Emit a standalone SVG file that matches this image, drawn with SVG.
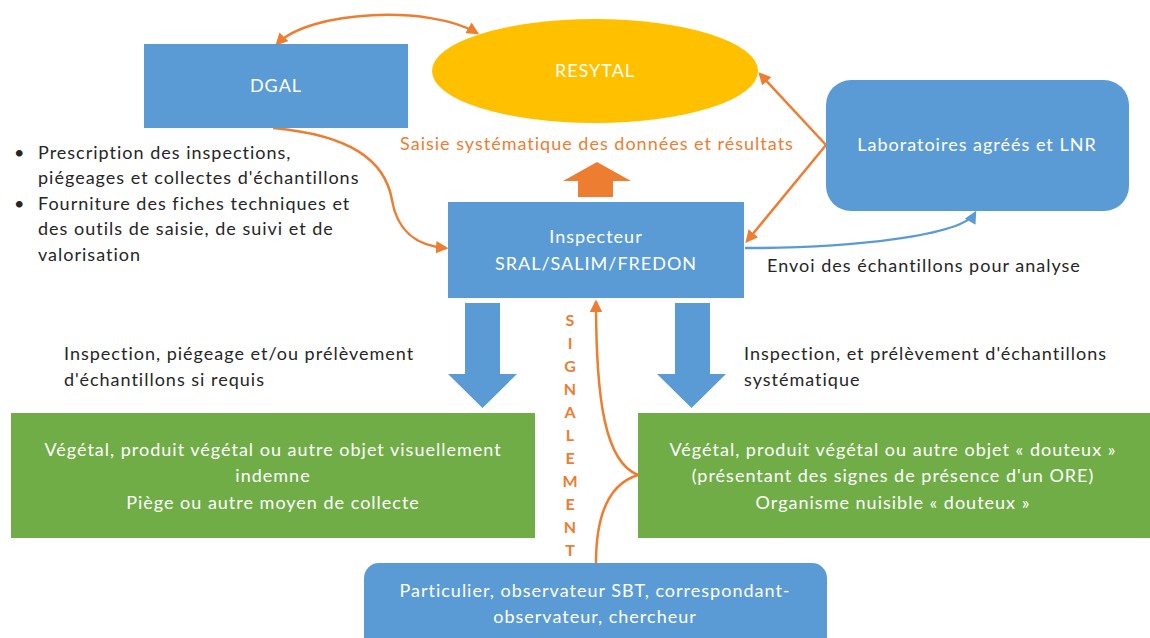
<svg xmlns="http://www.w3.org/2000/svg" width="1150" height="638" viewBox="0 0 1150 638">
<defs>
<style>
text{font-family:Lato,"Open Sans","Liberation Sans",sans-serif;font-size:18px;letter-spacing:1px}
.w{fill:#ffffff}
.k{fill:#262626}
.o{fill:#ED7D31}
.c{text-anchor:middle}
.blue{fill:#5B9BD5}
.green{fill:#70AD47}
.ol{fill:none;stroke:#ED7D31;stroke-width:2.5}
.bl{fill:none;stroke:#5B9BD5;stroke-width:2.5}
.sig{font-size:16px;font-weight:bold;fill:#ED7D31;text-anchor:middle;letter-spacing:0}
</style>
<marker id="ao" viewBox="0 0 10 10" refX="8" refY="5" markerWidth="5" markerHeight="5" orient="auto-start-reverse" markerUnits="strokeWidth"><path d="M0,0 L10,5 L0,10 z" fill="#ED7D31"/></marker>
<marker id="ab" viewBox="0 0 10 10" refX="8" refY="5" markerWidth="5" markerHeight="5" orient="auto" markerUnits="strokeWidth"><path d="M0,0 L10,5 L0,10 z" fill="#5B9BD5"/></marker>
</defs>
<rect width="1150" height="638" fill="#ffffff"/>

<g id="connectors">
<path class="ol" d="M277,44 C310,10 430,5 477,33" marker-start="url(#ao)" marker-end="url(#ao)"/>
<path class="ol" d="M273,128 C350,135 385,160 392,200 C398,235 420,246 446,248" marker-end="url(#ao)"/>
<path class="ol" d="M826,145 L760,74" marker-end="url(#ao)"/>
<path class="ol" d="M826,145 L747,241" marker-end="url(#ao)"/>
<path class="bl" d="M745,248 C850,248 962,236 975,213" marker-end="url(#ab)"/>
<path class="ol" d="M596,563 C596,505 615,482 638,475 C605,462 596,400 596,302" marker-end="url(#ao)"/>
<path id="up-arrow" fill="#ED7D31" d="M578,197 L578,181 L563,181 L597,162 L631,181 L613,181 L613,197 Z"/>
<path id="down-left" class="blue" d="M465,303 L500,303 L500,374 L517,374 L482.5,408 L448,374 L465,374 Z"/>
<path id="down-right" class="blue" d="M675,303 L710,303 L710,374 L726,374 L691.5,408 L657,374 L675,374 Z"/>
</g>

<g id="dgal">
<rect class="blue" x="144" y="44" width="264" height="84"/>
<text class="w c" x="276" y="92">DGAL</text>
</g>

<g id="resytal">
<ellipse cx="595" cy="71" rx="163" ry="52" fill="#FFC000"/>
<text class="w c" x="595" y="77">RESYTAL</text>
</g>

<g id="labo">
<rect class="blue" x="826" y="80" width="303" height="131" rx="25"/>
<text class="w c" x="977" y="151">Laboratoires agréés et LNR</text>
</g>

<g id="inspecteur">
<rect class="blue" x="448" y="202" width="296" height="96"/>
<text class="w c" x="596" y="243">Inspecteur</text>
<text class="w c" x="596" y="270">SRAL/SALIM/FREDON</text>
</g>

<g id="green-left">
<rect class="green" x="11" y="413" width="524" height="125"/>
<text class="w c" x="273" y="456">Végétal, produit végétal ou autre objet visuellement</text>
<text class="w c" x="273" y="482">indemne</text>
<text class="w c" x="273" y="509">Piège ou autre moyen de collecte</text>
</g>

<g id="green-right">
<rect class="green" x="638" y="413" width="512" height="125"/>
<text class="w c" x="893" y="456">Végétal, produit végétal ou autre objet « douteux »</text>
<text class="w c" x="893" y="482">(présentant des signes de présence d'un ORE)</text>
<text class="w c" x="893" y="509">Organisme nuisible « douteux »</text>
</g>

<g id="particulier">
<rect class="blue" x="364" y="563" width="463" height="90" rx="15"/>
<text class="w c" x="595" y="597">Particulier, observateur SBT, correspondant-</text>
<text class="w c" x="595" y="623">observateur, chercheur</text>
</g>

<g id="labels">
<text class="o c" x="597" y="150">Saisie systématique des données et résultats</text>
<text class="k" x="767" y="272">Envoi des échantillons pour analyse</text>
<text class="k" x="14" y="159">•</text>
<text class="k" x="38" y="159">Prescription des inspections,</text>
<text class="k" x="38" y="184">piégeages et collectes d'échantillons</text>
<text class="k" x="14" y="210">•</text>
<text class="k" x="38" y="210">Fourniture des fiches techniques et</text>
<text class="k" x="38" y="235">des outils de saisie, de suivi et de</text>
<text class="k" x="38" y="261">valorisation</text>
<text class="k" x="64" y="360">Inspection, piégeage et/ou prélèvement</text>
<text class="k" x="64" y="386">d'échantillons si requis</text>
<text class="k" x="744" y="360">Inspection, et prélèvement d'échantillons</text>
<text class="k" x="744" y="386">systématique</text>
</g>

<g id="signalement">
<text class="sig" x="570" y="326">S</text>
<text class="sig" x="570" y="349">I</text>
<text class="sig" x="570" y="372">G</text>
<text class="sig" x="570" y="395">N</text>
<text class="sig" x="570" y="418">A</text>
<text class="sig" x="570" y="441">L</text>
<text class="sig" x="570" y="464">E</text>
<text class="sig" x="570" y="487">M</text>
<text class="sig" x="570" y="510">E</text>
<text class="sig" x="570" y="533">N</text>
<text class="sig" x="570" y="556">T</text>
</g>
</svg>
